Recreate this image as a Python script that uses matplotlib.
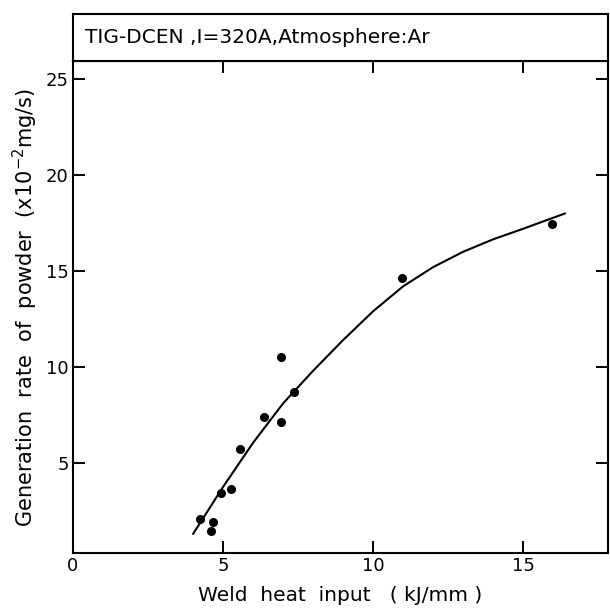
import matplotlib
matplotlib.use("Agg")
import matplotlib.pyplot as plt

# Measured points
heat_input = [4.23, 4.66, 4.59, 4.92, 5.26, 5.57, 6.38, 6.92, 6.92, 7.37, 10.98, 15.96]
gen_rate = [2.08, 1.91, 1.47, 3.42, 3.63, 5.71, 7.40, 7.15, 10.54, 8.71, 14.65, 17.46]

# Fitted curve
curve_x = [4.0, 5.0, 6.0, 7.0, 8.0, 9.0, 10.0, 11.0, 12.0, 13.0, 14.0, 15.0, 16.4]
curve_y = [1.3, 3.75, 6.05, 8.1, 9.8, 11.4, 12.9, 14.2, 15.2, 16.0, 16.65, 17.2, 18.0]

x_ticks = [0, 5, 10, 15]
y_ticks = [5, 10, 15, 20, 25]

plt.rcParams['font.family'] = ['DejaVu Sans']

fig = plt.figure(figsize=(6.1, 6.1), dpi=100)
ax = fig.add_axes([73/610, 1-553/610, (608-73)/610, (553-61)/610])

ax.plot(curve_x, curve_y, color='black', lw=1.5, solid_capstyle='round',
        solid_joinstyle='round')
ax.plot(heat_input, gen_rate, 'o', color='black', markersize=5.5)

ax.set_xlim(0, 17.83)
ax.set_ylim(0.31, 25.94)
ax.set_xticks(x_ticks)
ax.set_yticks(y_ticks)
ax.tick_params(direction='in', length=8.5, width=1.4, labelsize=13,
               top=True, right=True)
ax.tick_params(axis='y', pad=3)
ax.tick_params(axis='x', pad=3)
for s in ax.spines.values():
    s.set_linewidth(1.5)

ax.set_xlabel('Weld  heat  input   ( kJ/mm )', fontsize=14.5, labelpad=8)
ax.set_ylabel('Generation  rate  of  powder  (x10$^{-2}$mg/s)', fontsize=15,
              labelpad=4)

# Title box above the axes
tax = fig.add_axes([73/610, 1-61/610, (608-73)/610, (61-14)/610])
tax.set_xticks([])
tax.set_yticks([])
for s in tax.spines.values():
    s.set_linewidth(1.5)
tax.text(0.022, 0.5, 'TIG-DCEN ,I=320A,Atmosphere:Ar', fontsize=14.5,
         va='center', ha='left', transform=tax.transAxes)

fig.savefig('out.png', dpi=100)
